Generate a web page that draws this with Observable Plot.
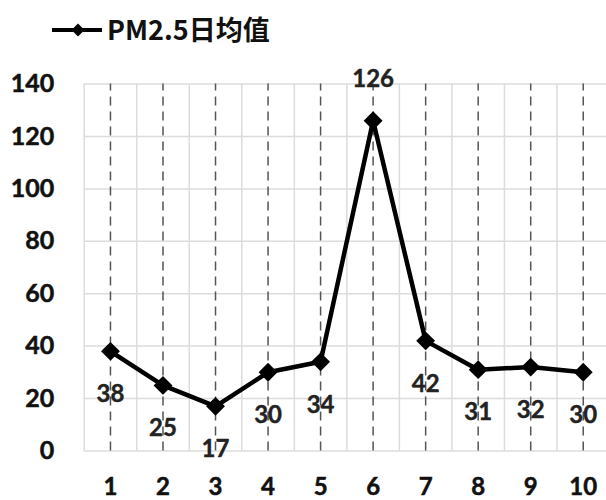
<!DOCTYPE html>
<html><head><meta charset="utf-8">
<script src="https://cdn.jsdelivr.net/npm/d3@7"></script>
<script src="https://cdn.jsdelivr.net/npm/@observablehq/plot@0.6"></script>
<style>
body{margin:0;background:#fff;}
#legend{height:60px;position:relative;font-family:"Noto Sans CJK SC",Lato,sans-serif;}
#legend svg{position:absolute;left:50px;top:19px;}
#legend span{position:absolute;left:107px;top:10px;font-size:27px;font-weight:bold;color:#111;line-height:38px;}
#chart svg{overflow:visible;}
</style>
</head><body>
<div id="legend">
<svg width="54" height="22"><line x1="2" y1="11" x2="52" y2="11" stroke="#000" stroke-width="4"/><path d="M28 4.5 L34.5 11 L28 17.5 L21.5 11 Z" fill="#000"/></svg>
<span>PM2.5日均值</span>
</div>
<div id="chart"></div>
<script>
const days = [1,2,3,4,5,6,7,8,9,10];
const pm25 = [38,25,17,30,34,126,42,31,32,30];
const yTicks = [0,20,40,60,80,100,120,140];
const seriesName = "PM2.5日均值";

const data = days.map((d,i)=>({day:d, value:pm25[i]}));
const maxVal = d3.max(pm25);
const bounds = [0].concat(days).map(d=>d+0.5);

const chart = Plot.plot({
  width: 606,
  height: 440,
  marginLeft: 83.7,
  marginRight: -3,
  marginTop: 23.6,
  marginBottom: 49.6,
  style: {fontFamily: "Lato, sans-serif", background: "#fff", overflow: "visible"},
  x: {domain: [0.5, 10.5], axis: null},
  y: {domain: [0, 140], axis: null},
  marks: [
    Plot.ruleY(yTicks, {stroke: "#dcdcdc", strokeWidth: 1.5}),
    Plot.ruleX(bounds, {y1: 0, y2: 140, stroke: "#dcdcdc", strokeWidth: 1.5}),
    Plot.ruleX(days, {y1: 0, y2: 140, stroke: "#555", strokeWidth: 1.5, strokeDasharray: "9,6"}),
    Plot.text(yTicks, {y: d=>d, text: d=>String(d), frameAnchor: "left", textAnchor: "end", lineAnchor: "middle", dx: -30, fill: "#111", stroke: "#111", strokeWidth: 0.5, fontSize: 25, fontWeight: "bold"}),
    Plot.text(days, {x: d=>d, text: d=>String(d), frameAnchor: "bottom", lineAnchor: "middle", dy: 36, fill: "#111", stroke: "#111", strokeWidth: 0.5, fontSize: 24, fontWeight: "bold"}),
    Plot.line(data, {x: "day", y: "value", stroke: "#000", strokeWidth: 4.5}),
    Plot.dot(data, {x: "day", y: "value", symbol: "diamond2", r: 8.5, fill: "#000", stroke: "none"}),
    Plot.text(data.filter(d=>d.value!==maxVal), {x: "day", y: "value", text: d=>String(d.value), dy: 43, fill: "#222", stroke: "#222", strokeWidth: 0.4, fontSize: 24, fontWeight: "bold"}),
    Plot.text(data.filter(d=>d.value===maxVal), {x: "day", y: "value", text: d=>String(d.value), dy: -41, fill: "#222", stroke: "#222", strokeWidth: 0.4, fontSize: 24, fontWeight: "bold"})
  ]
});
document.getElementById("chart").appendChild(chart);
</script>
</body></html>
